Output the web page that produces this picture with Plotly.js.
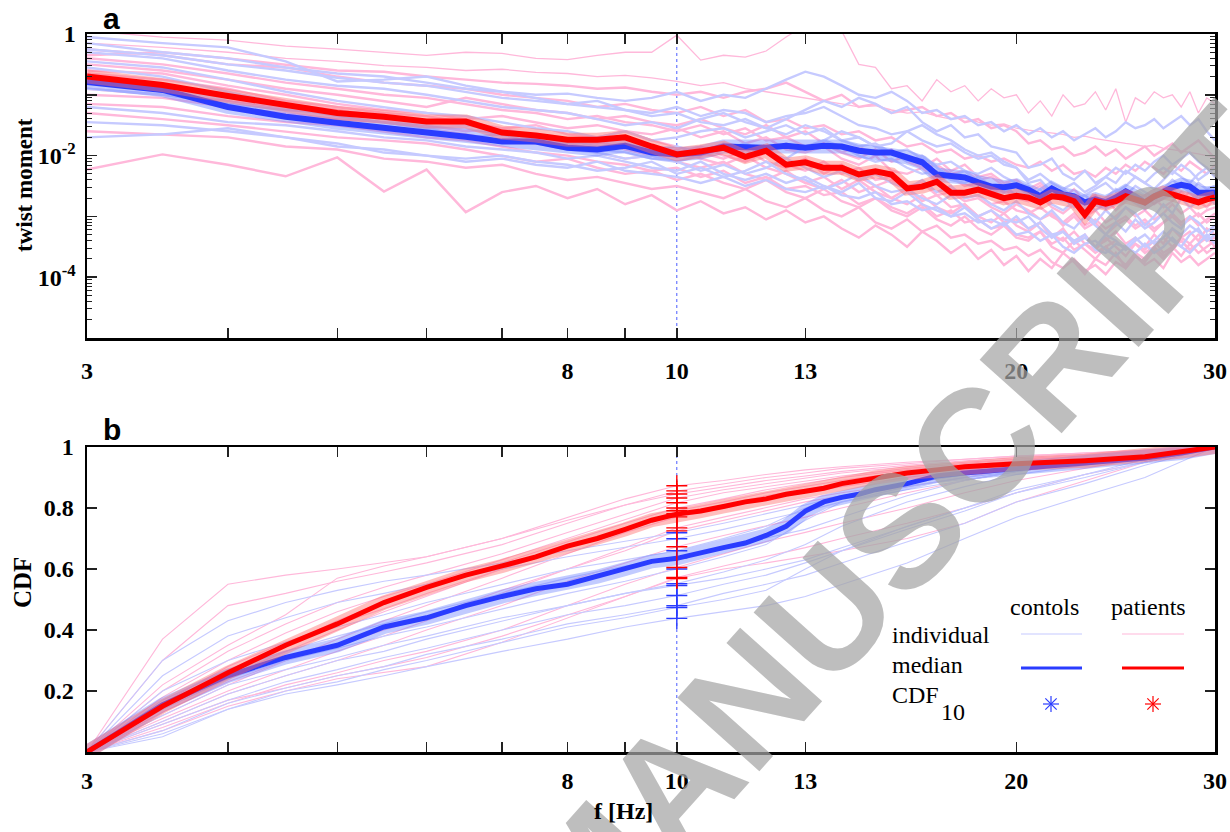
<!DOCTYPE html>
<html><head><meta charset="utf-8">
<script src="https://cdn.plot.ly/plotly-3.0.1.min.js"></script>
<style>html,body{margin:0;padding:0;background:#fff}#chart{width:1230px;height:832px}</style>
</head><body><div id="chart"></div>
<script>
// ---------- DATA ----------
// frequencies (Hz) of the twist-moment spectra
const freqTop = [3,3.5,4,4.5,5,5.5,6,6.5,7,7.5,8,8.5,9,9.5,10,
  10.5,11,11.5,12,12.5,13,13.5,14,14.5,15,15.5,16,16.5,17,17.5,18,18.5,19,19.5,20,
  20.5,21,21.5,22,22.5,23,23.5,24,24.5,25,25.5,26,26.5,27,27.5,28,28.5,29,29.5,30];

// medians, log10(twist moment)
const ctrlMedianLog = [-0.79,-0.92,-1.20,-1.36,-1.46,-1.54,-1.61,-1.69,-1.77,-1.77,-1.87,-1.90,-1.84,-1.95,-1.98,
  -1.95,-1.85,-1.85,-1.87,-1.84,-1.87,-1.84,-1.85,-1.92,-1.95,-1.95,-2.03,-2.11,-2.31,-2.34,-2.36,-2.44,-2.51,-2.52,-2.49,
  -2.56,-2.67,-2.54,-2.64,-2.67,-2.77,-2.72,-2.77,-2.69,-2.59,-2.67,-2.77,-2.67,-2.59,-2.52,-2.48,-2.51,-2.61,-2.62,-2.61];
const patMedianLog = [-0.70,-0.84,-1.02,-1.18,-1.30,-1.36,-1.44,-1.44,-1.62,-1.67,-1.74,-1.74,-1.70,-1.85,-1.98,
  -1.93,-1.87,-2.02,-1.92,-2.15,-2.11,-2.20,-2.20,-2.31,-2.26,-2.31,-2.54,-2.51,-2.43,-2.61,-2.61,-2.56,-2.62,-2.70,-2.66,
  -2.69,-2.77,-2.67,-2.69,-2.75,-2.97,-2.75,-2.79,-2.75,-2.67,-2.72,-2.77,-2.67,-2.61,-2.64,-2.69,-2.72,-2.77,-2.72,-2.69];

// individual controls, log10(twist moment)
const ctrlIndivLog = [
 [-0.05,-0.15,-0.22,-0.45,-0.78,-0.75,-0.70,-0.85,-0.95,-1.0,-0.98,-1.05,-1.1,-1.05,-0.95,
  -1.1,-1.0,-1.05,-0.9,-0.75,-0.62,-0.7,-0.85,-1.0,-1.05,-0.95,-1.1,-1.3,-1.25,-1.4,-1.35,-1.5,-1.45,-1.6,-1.5,
  -1.65,-1.55,-1.7,-1.6,-1.75,-1.65,-1.55,-1.7,-1.6,-1.45,-1.55,-1.5,-1.4,-1.55,-1.45,-1.35,-1.5,-1.4,-1.6,-1.75],
 [-0.25,-0.35,-0.5,-0.6,-0.72,-0.8,-0.85,-0.95,-1.05,-1.1,-1.15,-1.2,-1.25,-1.3,-1.2,
  -1.35,-1.25,-1.3,-1.45,-1.35,-1.3,-1.2,-1.35,-1.5,-1.55,-1.65,-1.6,-1.75,-1.85,-1.8,-1.95,-2.05,-2.0,-2.15,-2.2,
  -2.45,-2.4,-2.6,-2.55,-2.7,-2.65,-2.55,-2.45,-2.6,-2.5,-2.35,-2.45,-2.55,-2.4,-2.25,-2.35,-2.45,-2.3,-2.2,-2.35],
 [-0.55,-0.7,-0.95,-1.15,-1.3,-1.4,-1.5,-1.55,-1.65,-1.7,-1.75,-1.85,-1.8,-1.9,-1.85,
  -1.95,-1.8,-1.85,-1.95,-1.8,-1.9,-1.75,-1.85,-2.0,-2.1,-2.05,-2.2,-2.3,-2.25,-2.4,-2.45,-2.35,-2.5,-2.6,-2.5,
  -2.65,-2.75,-2.6,-2.7,-2.85,-2.75,-2.9,-2.8,-2.7,-2.55,-2.65,-2.8,-2.7,-2.6,-2.5,-2.45,-2.6,-2.7,-2.6,-2.55],
 [-1.45,-1.5,-1.6,-1.7,-1.85,-1.9,-2.0,-2.1,-2.05,-2.15,-2.2,-2.1,-2.25,-2.3,-2.35,
  -2.45,-2.35,-2.5,-2.4,-2.55,-2.6,-2.5,-2.65,-2.7,-2.6,-2.8,-2.75,-2.9,-2.85,-3.0,-2.95,-3.1,-3.05,-3.15,-3.0,
  -3.2,-3.1,-3.3,-3.25,-3.45,-3.35,-3.5,-3.3,-3.4,-3.55,-3.4,-3.3,-3.45,-3.35,-3.2,-3.3,-3.15,-3.25,-3.35,-3.2],
 [-1.7,-1.65,-1.55,-1.7,-1.8,-1.95,-2.0,-2.05,-2.0,-2.1,-2.15,-2.25,-2.2,-2.1,-2.3,
  -2.2,-2.35,-2.25,-2.1,-2.3,-2.4,-2.55,-2.45,-2.3,-2.5,-2.6,-2.55,-2.7,-2.8,-2.65,-2.85,-3.0,-2.9,-3.05,-3.1,
  -3.0,-3.2,-3.35,-3.25,-3.4,-3.3,-3.55,-3.6,-3.45,-3.5,-3.35,-3.5,-3.4,-3.25,-3.4,-3.5,-3.3,-3.2,-3.4,-3.3],
 [-0.3,-0.4,-0.6,-0.75,-0.85,-0.9,-1.0,-1.1,-1.2,-1.25,-1.3,-1.4,-1.5,-1.45,-1.55,
  -1.4,-1.3,-1.45,-1.55,-1.4,-1.25,-1.1,-1.2,-1.05,-1.15,-1.3,-1.2,-1.45,-1.6,-1.5,-1.7,-1.65,-1.85,-1.9,-1.95,
  -2.2,-2.15,-2.05,-2.3,-2.4,-2.25,-2.45,-2.35,-2.2,-2.3,-2.15,-2.25,-2.1,-2.0,-2.15,-2.05,-1.95,-2.1,-2.2,-2.35],
 [-0.7,-0.85,-1.05,-1.2,-1.35,-1.45,-1.55,-1.5,-1.6,-1.75,-1.8,-1.9,-1.95,-2.05,-2.1,
  -2.0,-1.9,-1.8,-1.95,-2.05,-1.85,-1.75,-1.6,-1.7,-1.85,-1.95,-2.1,-2.0,-2.2,-2.35,-2.25,-2.45,-2.55,-2.5,-2.65,
  -2.7,-2.55,-2.8,-2.9,-2.75,-2.95,-3.1,-2.9,-3.05,-2.85,-2.95,-3.15,-3.0,-2.8,-2.95,-2.7,-2.85,-2.75,-2.65,-2.8],
 [-0.9,-1.0,-1.15,-1.25,-1.3,-1.4,-1.55,-1.7,-1.65,-1.8,-1.9,-1.95,-2.05,-2.0,-2.1,
  -2.25,-2.15,-2.3,-2.2,-2.05,-2.2,-2.35,-2.25,-2.4,-2.3,-2.45,-2.55,-2.4,-2.6,-2.5,-2.7,-2.65,-2.8,-2.9,-2.75,
  -2.95,-3.05,-2.9,-3.1,-3.2,-3.0,-3.15,-3.3,-3.1,-3.25,-3.05,-3.2,-3.1,-2.95,-3.1,-3.2,-3.0,-3.1,-3.25,-3.15],
 [-0.45,-0.55,-0.75,-0.95,-1.1,-1.2,-1.3,-1.35,-1.45,-1.55,-1.6,-1.7,-1.6,-1.75,-1.7,
  -1.6,-1.55,-1.7,-1.6,-1.5,-1.65,-1.55,-1.75,-1.85,-1.8,-1.95,-1.9,-2.05,-2.15,-2.1,-2.25,-2.3,-2.2,-2.35,-2.45,
  -2.5,-2.65,-2.7,-2.55,-2.75,-2.65,-2.8,-2.7,-2.55,-2.65,-2.5,-2.6,-2.7,-2.55,-2.4,-2.5,-2.6,-2.45,-2.55,-2.5],
 [-1.2,-1.3,-1.45,-1.5,-1.6,-1.7,-1.75,-1.85,-1.9,-1.95,-2.05,-2.0,-2.1,-2.2,-2.25,
  -2.1,-2.3,-2.4,-2.3,-2.45,-2.35,-2.5,-2.6,-2.45,-2.7,-2.75,-2.6,-2.8,-2.9,-3.0,-2.85,-3.05,-3.2,-3.1,-3.3,
  -3.25,-3.4,-3.3,-3.5,-3.6,-3.45,-3.4,-3.55,-3.65,-3.5,-3.6,-3.45,-3.6,-3.5,-3.35,-3.5,-3.6,-3.45,-3.3,-3.45],
 [-0.15,-0.3,-0.4,-0.55,-0.65,-0.7,-0.8,-0.9,-0.95,-1.05,-1.15,-1.1,-1.25,-1.35,-1.3,
  -1.45,-1.5,-1.4,-1.55,-1.65,-1.5,-1.6,-1.75,-1.7,-1.85,-1.8,-1.6,-1.5,-1.65,-1.75,-1.9,-2.0,-1.95,-2.1,-2.2,
  -2.4,-2.3,-2.45,-2.55,-2.45,-2.6,-2.5,-2.35,-2.45,-2.25,-2.35,-2.45,-2.3,-2.2,-2.3,-2.15,-2.25,-2.4,-2.3,-2.2]
];

// individual patients, log10(twist moment)
const patIndivLog = [
 [0.05,-0.05,-0.1,-0.2,-0.25,-0.3,-0.35,-0.3,-0.32,-0.4,-0.42,-0.35,-0.3,-0.3,-0.02,
  -0.43,-0.35,-0.38,-0.28,-0.05,0.15,0.2,0.05,-0.5,-0.55,-0.9,-0.85,-1.1,-0.75,-0.95,-0.85,-1.1,-0.9,-1.05,-1.0,
  -1.3,-1.1,-1.35,-1.0,-1.2,-1.15,-0.95,-1.25,-0.9,-1.45,-1.05,-1.15,-0.95,-1.05,-1.0,-1.2,-0.95,-1.3,-1.05,-1.15],
 [-0.15,-0.22,-0.3,-0.4,-0.45,-0.52,-0.55,-0.6,-0.58,-0.63,-0.65,-0.7,-0.68,-0.72,-0.78,
  -0.85,-0.8,-0.9,-0.95,-1.0,-1.05,-1.1,-1.15,-1.2,-1.18,-1.25,-1.3,-1.28,-1.35,-1.4,-1.38,-1.45,-1.5,-1.48,-1.55,
  -1.58,-1.6,-1.62,-1.65,-1.7,-1.68,-1.72,-1.75,-1.78,-1.8,-1.82,-1.85,-1.83,-1.88,-1.9,-1.92,-1.95,-1.97,-2.0,-2.02],
 [-2.23,-1.98,-2.15,-2.34,-2.03,-2.59,-2.23,-2.93,-2.6,-2.5,-2.7,-2.55,-2.8,-2.65,-2.9,
  -2.75,-2.95,-2.85,-3.05,-2.9,-3.1,-3.0,-3.2,-3.35,-3.15,-3.3,-3.5,-3.25,-3.4,-3.6,-3.45,-3.7,-3.55,-3.8,-3.65,
  -3.9,-3.7,-3.85,-3.6,-3.75,-3.95,-3.7,-3.8,-3.6,-3.85,-3.65,-3.75,-3.55,-3.7,-3.5,-3.65,-3.45,-3.6,-3.5,-3.4],
 [-0.35,-0.3,-0.4,-0.5,-0.6,-0.62,-0.7,-0.75,-0.8,-0.82,-0.85,-0.9,-0.88,-0.95,-1.0,
  -0.95,-1.05,-0.95,-0.9,-0.8,-0.95,-1.1,-1.0,-1.2,-1.15,-1.3,-1.25,-1.2,-1.35,-1.3,-1.45,-1.4,-1.55,-1.5,-1.6,
  -1.8,-1.75,-1.9,-1.85,-2.0,-1.95,-1.85,-2.0,-1.9,-2.05,-1.95,-1.85,-2.0,-1.9,-1.8,-1.95,-1.85,-1.75,-1.9,-2.05],
 [-0.5,-0.6,-0.75,-0.9,-1.0,-1.1,-1.2,-1.05,-1.15,-1.25,-1.3,-1.4,-1.35,-1.45,-1.5,
  -1.4,-1.55,-1.65,-1.5,-1.7,-1.6,-1.8,-1.95,-1.85,-2.0,-1.9,-2.1,-2.2,-2.05,-2.25,-2.15,-2.35,-2.3,-2.45,-2.4,
  -2.55,-2.45,-2.6,-2.7,-2.55,-2.75,-2.65,-2.85,-2.7,-2.6,-2.75,-2.65,-2.8,-2.7,-2.55,-2.7,-2.6,-2.75,-2.85,-2.7],
 [-0.65,-0.75,-0.9,-1.1,-1.2,-1.3,-1.35,-1.45,-1.55,-1.5,-1.65,-1.7,-1.6,-1.75,-1.85,
  -1.95,-2.05,-1.9,-2.1,-2.2,-2.05,-2.3,-2.15,-2.35,-2.5,-2.4,-2.55,-2.45,-2.65,-2.6,-2.75,-2.7,-2.85,-2.95,-2.8,
  -2.9,-3.05,-2.95,-3.15,-3.0,-3.2,-3.1,-3.3,-3.15,-3.05,-3.2,-3.1,-3.25,-3.1,-3.0,-3.15,-3.05,-2.95,-3.1,-3.0],
 [-0.8,-0.9,-1.0,-1.15,-1.25,-1.35,-1.5,-1.6,-1.55,-1.7,-1.8,-1.75,-1.9,-2.0,-1.9,
  -2.05,-2.15,-2.0,-2.2,-2.3,-2.45,-2.35,-2.55,-2.4,-2.6,-2.7,-2.55,-2.75,-2.65,-2.85,-2.8,-3.0,-2.9,-3.1,-3.05,
  -3.2,-3.1,-3.3,-3.4,-3.25,-3.45,-3.55,-3.35,-3.5,-3.65,-3.45,-3.55,-3.4,-3.6,-3.5,-3.35,-3.45,-3.3,-3.4,-3.35],
 [-1.0,-1.05,-1.2,-1.3,-1.4,-1.45,-1.55,-1.65,-1.75,-1.8,-1.85,-1.95,-2.05,-2.0,-2.1,
  -2.2,-2.1,-2.3,-2.4,-2.25,-2.45,-2.55,-2.4,-2.6,-2.5,-2.7,-2.8,-2.65,-2.85,-2.95,-2.8,-3.0,-3.1,-2.95,-3.15,
  -3.25,-3.1,-3.35,-3.2,-3.45,-3.3,-3.5,-3.4,-3.25,-3.45,-3.35,-3.5,-3.3,-3.45,-3.2,-3.35,-3.25,-3.4,-3.2,-3.3],
 [-1.3,-1.4,-1.5,-1.6,-1.7,-1.75,-1.8,-1.9,-2.0,-2.1,-2.05,-2.2,-2.3,-2.25,-2.4,
  -2.3,-2.45,-2.55,-2.4,-2.6,-2.7,-2.55,-2.75,-2.85,-2.7,-2.9,-3.0,-2.85,-3.05,-3.15,-3.0,-3.2,-3.3,-3.15,-3.35,
  -3.4,-3.25,-3.5,-3.6,-3.4,-3.55,-3.7,-3.5,-3.65,-3.8,-3.6,-3.7,-3.5,-3.65,-3.55,-3.4,-3.55,-3.45,-3.6,-3.5],
 [-0.4,-0.5,-0.65,-0.8,-0.9,-1.0,-1.05,-1.15,-1.25,-1.3,-1.4,-1.35,-1.45,-1.5,-1.6,
  -1.5,-1.65,-1.55,-1.75,-1.7,-1.85,-1.8,-1.95,-2.05,-1.9,-2.1,-2.0,-2.2,-2.15,-2.3,-2.25,-2.4,-2.35,-2.5,-2.45,
  -2.6,-2.5,-2.65,-2.55,-2.75,-2.65,-2.8,-2.7,-2.9,-2.75,-2.65,-2.8,-2.7,-2.85,-2.75,-2.6,-2.7,-2.8,-2.65,-2.75],
 [-1.6,-1.65,-1.7,-1.85,-1.9,-2.05,-2.1,-2.2,-2.15,-2.3,-2.4,-2.35,-2.45,-2.55,-2.5,
  -2.6,-2.7,-2.55,-2.75,-2.85,-2.7,-2.9,-3.0,-2.85,-3.1,-3.2,-3.05,-3.25,-3.15,-3.35,-3.3,-3.45,-3.4,-3.55,-3.5,
  -3.65,-3.55,-3.75,-3.85,-3.7,-3.9,-3.8,-3.95,-3.75,-3.85,-3.65,-3.8,-3.7,-3.85,-3.6,-3.75,-3.65,-3.8,-3.7,-3.6],
 [-0.6,-0.65,-0.85,-1.0,-1.15,-1.25,-1.3,-1.4,-1.35,-1.45,-1.55,-1.5,-1.6,-1.65,-1.55,
  -1.7,-1.6,-1.8,-1.7,-1.9,-1.95,-1.85,-2.05,-2.15,-2.0,-2.25,-2.3,-2.2,-2.4,-2.35,-2.5,-2.45,-2.6,-2.55,-2.7,
  -2.75,-2.65,-2.85,-2.95,-2.8,-3.0,-2.9,-3.1,-3.0,-2.85,-3.0,-2.9,-3.05,-2.95,-2.8,-2.95,-2.85,-3.0,-2.9,-2.85],
 [-1.15,-1.2,-1.35,-1.45,-1.5,-1.6,-1.7,-1.75,-1.85,-1.95,-2.0,-2.1,-2.15,-2.25,-2.2,
  -2.35,-2.25,-2.45,-2.35,-2.55,-2.5,-2.65,-2.6,-2.8,-2.7,-2.85,-2.95,-2.8,-3.0,-2.9,-3.1,-3.05,-3.2,-3.15,-3.3,
  -3.35,-3.25,-3.45,-3.35,-3.55,-3.45,-3.6,-3.5,-3.4,-3.55,-3.45,-3.6,-3.5,-3.35,-3.5,-3.4,-3.55,-3.45,-3.35,-3.5],
 [-0.25,-0.35,-0.5,-0.55,-0.7,-0.8,-0.85,-0.9,-1.0,-1.05,-1.1,-1.2,-1.15,-1.25,-1.3,
  -1.2,-1.35,-1.25,-1.45,-1.4,-1.55,-1.5,-1.65,-1.6,-1.75,-1.7,-1.85,-1.8,-1.95,-1.9,-2.05,-2.0,-2.1,-2.05,-2.15,
  -2.2,-2.1,-2.25,-2.15,-2.3,-2.25,-2.35,-2.2,-2.3,-2.15,-2.25,-2.1,-2.2,-2.3,-2.15,-2.25,-2.1,-2.2,-2.3,-2.15],
 [-0.9,-1.0,-1.1,-1.2,-1.3,-1.35,-1.45,-1.5,-1.6,-1.7,-1.75,-1.8,-1.7,-1.85,-1.95,
  -1.85,-2.0,-2.1,-1.95,-2.15,-2.25,-2.1,-2.3,-2.2,-2.4,-2.35,-2.5,-2.45,-2.6,-2.55,-2.7,-2.65,-2.8,-2.75,-2.9,
  -2.95,-2.85,-3.0,-3.1,-2.95,-3.15,-3.05,-3.2,-3.1,-3.0,-3.15,-3.05,-3.2,-3.1,-2.95,-3.1,-3.0,-3.15,-3.05,-2.95]
];

// CDF panel
const freqCdf = [3,3.5,4,4.5,5,5.5,6,7,8,9,10,11,12,13,14,16,18,20,23,26,30];
const ctrlCdf = [
 [0,0.30,0.43,0.49,0.53,0.56,0.58,0.62,0.66,0.69,0.719,0.75,0.78,0.81,0.84,0.88,0.91,0.93,0.95,0.97,1],
 [0,0.25,0.38,0.44,0.49,0.52,0.55,0.60,0.64,0.67,0.699,0.73,0.76,0.79,0.82,0.86,0.89,0.92,0.95,0.97,1],
 [0,0.20,0.30,0.36,0.41,0.45,0.49,0.55,0.60,0.63,0.66,0.70,0.74,0.80,0.84,0.88,0.91,0.93,0.95,0.97,1],
 [0,0.17,0.27,0.33,0.38,0.42,0.46,0.52,0.57,0.61,0.637,0.67,0.70,0.73,0.77,0.84,0.89,0.92,0.95,0.97,1],
 [0,0.14,0.24,0.30,0.34,0.38,0.41,0.47,0.52,0.56,0.60,0.64,0.68,0.76,0.82,0.87,0.90,0.92,0.95,0.97,1],
 [0,0.12,0.22,0.27,0.31,0.35,0.38,0.44,0.48,0.52,0.552,0.59,0.63,0.68,0.74,0.82,0.87,0.91,0.94,0.97,1],
 [0,0.10,0.19,0.25,0.30,0.33,0.37,0.43,0.48,0.52,0.546,0.57,0.60,0.63,0.67,0.74,0.80,0.85,0.90,0.95,1],
 [0,0.09,0.17,0.23,0.27,0.31,0.34,0.40,0.45,0.48,0.513,0.55,0.58,0.62,0.66,0.73,0.79,0.85,0.91,0.96,1],
 [0,0.07,0.16,0.21,0.25,0.28,0.32,0.37,0.42,0.45,0.48,0.52,0.55,0.58,0.62,0.69,0.75,0.82,0.88,0.94,1],
 [0,0.06,0.14,0.20,0.23,0.27,0.30,0.36,0.41,0.44,0.474,0.50,0.53,0.60,0.66,0.74,0.80,0.86,0.91,0.95,1],
 [0,0.05,0.14,0.19,0.22,0.25,0.28,0.33,0.37,0.41,0.438,0.46,0.48,0.51,0.55,0.62,0.70,0.77,0.84,0.90,1]
];
const patCdf = [
 [0,0.37,0.55,0.58,0.60,0.62,0.64,0.70,0.77,0.83,0.873,0.89,0.91,0.925,0.935,0.95,0.96,0.97,0.98,0.99,1],
 [0,0.30,0.48,0.52,0.56,0.59,0.62,0.68,0.75,0.81,0.856,0.88,0.90,0.915,0.93,0.945,0.96,0.97,0.98,0.99,1],
 [0,0.22,0.35,0.45,0.57,0.61,0.64,0.70,0.76,0.81,0.846,0.87,0.89,0.905,0.92,0.94,0.955,0.965,0.975,0.985,1],
 [0,0.20,0.33,0.42,0.49,0.54,0.58,0.65,0.72,0.78,0.833,0.86,0.88,0.90,0.915,0.935,0.95,0.96,0.975,0.985,1],
 [0,0.18,0.30,0.39,0.46,0.51,0.55,0.63,0.70,0.76,0.817,0.85,0.87,0.89,0.905,0.93,0.945,0.96,0.97,0.985,1],
 [0,0.15,0.26,0.35,0.43,0.49,0.54,0.62,0.69,0.75,0.80,0.83,0.86,0.88,0.90,0.925,0.94,0.955,0.97,0.985,1],
 [0,0.14,0.25,0.33,0.40,0.46,0.51,0.60,0.67,0.73,0.791,0.82,0.85,0.87,0.89,0.92,0.94,0.955,0.97,0.985,1],
 [0,0.16,0.28,0.36,0.42,0.47,0.52,0.60,0.67,0.73,0.781,0.81,0.84,0.86,0.88,0.91,0.93,0.95,0.965,0.98,1],
 [0,0.12,0.22,0.30,0.37,0.43,0.48,0.57,0.65,0.72,0.771,0.80,0.83,0.85,0.87,0.90,0.925,0.945,0.965,0.98,1],
 [0,0.11,0.20,0.27,0.33,0.38,0.43,0.52,0.60,0.67,0.735,0.77,0.80,0.83,0.85,0.88,0.91,0.935,0.96,0.98,1],
 [0,0.13,0.23,0.30,0.35,0.40,0.44,0.53,0.60,0.66,0.725,0.76,0.79,0.82,0.84,0.87,0.90,0.93,0.955,0.975,1],
 [0,0.10,0.19,0.25,0.30,0.35,0.40,0.48,0.56,0.62,0.673,0.71,0.74,0.77,0.80,0.85,0.89,0.92,0.95,0.975,1],
 [0,0.08,0.16,0.22,0.26,0.30,0.33,0.40,0.48,0.55,0.605,0.65,0.69,0.72,0.75,0.80,0.85,0.89,0.93,0.965,1],
 [0,0.07,0.15,0.20,0.24,0.26,0.28,0.36,0.44,0.51,0.572,0.61,0.64,0.67,0.70,0.75,0.80,0.85,0.91,0.95,1],
 [0,0.09,0.17,0.21,0.25,0.28,0.31,0.38,0.45,0.51,0.569,0.60,0.62,0.64,0.66,0.70,0.75,0.82,0.89,0.95,1]
];
const freqCdfMedian = [3,3.5,4,4.5,5,5.5,6,6.5,7,7.5,8,8.5,9,9.5,10,10.5,11,11.5,12,12.5,13,13.5,14,14.5,15,16,17,18,20,23,26,28,30];
const ctrlCdfMedian = [0,0.155,0.25,0.31,0.35,0.41,0.44,0.48,0.51,0.535,0.55,0.575,0.60,0.625,0.635,0.655,0.67,0.685,0.71,0.74,0.79,0.82,0.835,0.845,0.86,0.88,0.905,0.915,0.93,0.948,0.964,0.98,1];
const patCdfMedian  = [0,0.15,0.26,0.35,0.42,0.49,0.54,0.58,0.61,0.64,0.675,0.70,0.73,0.76,0.78,0.79,0.805,0.82,0.83,0.845,0.855,0.865,0.88,0.89,0.90,0.915,0.925,0.935,0.945,0.955,0.968,0.985,1];
const cdfFreq = 10;

// ticks
const xTickVals = [3,4,5,6,7,8,9,10,13,20,30];
const xTickText = ['3','','','','','8','','10','13','20','30'];
const yTopTickVals = [1,0.1,0.01,0.001,0.0001,0.00001];
const yTopTickText = ['1','','10<sup>-2</sup>','','10<sup>-4</sup>',''];
const yBotTickVals = [0.2,0.4,0.6,0.8,1];
const yBotTickText = ['0.2','0.4','0.6','0.8','1'];

// ---------- STYLE ----------
const C_IND = '#c6caff', P_IND = '#ffb8da';
const C_MED = '#2a3cff', P_MED = '#ff0000';
const C_BAND = 'rgba(110,130,255,0.42)', P_BAND = 'rgba(255,110,110,0.45)';
const VLINE = '#4a5cff';
const W = 1230, H = 832;
const PX = x => x / W, PY = y => 1 - y / H;
const serif = '"Liberation Serif", "Times New Roman", Times, "DejaVu Serif", serif';
const sans = '"Liberation Sans", Arial, sans-serif';

const pow10 = a => a.map(v => Math.pow(10, v));
const traces = [];
const base = {mode:'lines', hoverinfo:'skip', showlegend:false};

// panel a
traces.push(Object.assign({}, base, {x:[cdfFreq,cdfFreq], y:[1e-5,1], xaxis:'x', yaxis:'y', line:{color:VLINE, width:1, dash:'dot'}}));
patIndivLog.forEach((r,i) => traces.push(Object.assign({}, base, {x:freqTop, y:pow10(r), xaxis:'x', yaxis:'y', line:{color:P_IND, width:(i<2?1.3:2.4)}})));
ctrlIndivLog.forEach(r => traces.push(Object.assign({}, base, {x:freqTop, y:pow10(r), xaxis:'x', yaxis:'y', line:{color:C_IND, width:2.4}})));
traces.push(Object.assign({}, base, {x:freqTop, y:pow10(ctrlMedianLog), xaxis:'x', yaxis:'y', line:{color:C_BAND, width:14}}));
traces.push(Object.assign({}, base, {x:freqTop, y:pow10(ctrlMedianLog), xaxis:'x', yaxis:'y', line:{color:C_MED, width:6}}));
traces.push(Object.assign({}, base, {x:freqTop, y:pow10(patMedianLog), xaxis:'x', yaxis:'y', line:{color:P_BAND, width:14}}));
traces.push(Object.assign({}, base, {x:freqTop, y:pow10(patMedianLog), xaxis:'x', yaxis:'y', line:{color:P_MED, width:6}}));

// panel b
traces.push(Object.assign({}, base, {x:[cdfFreq,cdfFreq], y:[0,1], xaxis:'x2', yaxis:'y2', line:{color:VLINE, width:1, dash:'dot'}}));
patCdf.forEach(r => traces.push(Object.assign({}, base, {x:freqCdf, y:r, xaxis:'x2', yaxis:'y2', line:{color:P_IND, width:1.1}})));
ctrlCdf.forEach(r => traces.push(Object.assign({}, base, {x:freqCdf, y:r, xaxis:'x2', yaxis:'y2', line:{color:C_IND, width:1.1}})));
traces.push(Object.assign({}, base, {x:freqCdfMedian, y:ctrlCdfMedian, xaxis:'x2', yaxis:'y2', line:{color:C_BAND, width:14}}));
traces.push(Object.assign({}, base, {x:freqCdfMedian, y:ctrlCdfMedian, xaxis:'x2', yaxis:'y2', line:{color:C_MED, width:5}}));
traces.push(Object.assign({}, base, {x:freqCdfMedian, y:patCdfMedian, xaxis:'x2', yaxis:'y2', line:{color:P_BAND, width:14}}));
traces.push(Object.assign({}, base, {x:freqCdfMedian, y:patCdfMedian, xaxis:'x2', yaxis:'y2', line:{color:P_MED, width:5}}));
const i10 = freqCdf.indexOf(cdfFreq);
const ctrl10 = ctrlCdf.map(r => r[i10]);
const pat10 = patCdf.map(r => r[i10]);
traces.push({mode:'markers', x:ctrl10.map(() => cdfFreq), y:ctrl10, xaxis:'x2', yaxis:'y2', hoverinfo:'skip', showlegend:false, cliponaxis:false,
  marker:{symbol:'cross-thin-open', size:15, color:C_MED, line:{color:C_MED, width:1.4}}});
traces.push({mode:'markers', x:pat10.map(() => cdfFreq), y:pat10, xaxis:'x2', yaxis:'y2', hoverinfo:'skip', showlegend:false, cliponaxis:false,
  marker:{symbol:'cross-thin-open', size:15, color:P_MED, line:{color:P_MED, width:1.4}}});

// minor ticks for log axis
const minorVals = [];
for (let k = -5; k < 0; k++) for (let m = 2; m <= 9; m++) minorVals.push(m * Math.pow(10, k));

const tickFont = {family:serif, size:24, color:'#000', weight:'bold'};
const xCommon = {type:'log', range:[Math.log10(3), Math.log10(30)], tickmode:'array', tickvals:xTickVals, ticktext:xTickText,
  ticks:'inside', ticklen:10, tickwidth:1.5, tickcolor:'#222', showline:true, linewidth:2.5, linecolor:'#000', mirror:'ticks',
  showgrid:false, zeroline:false, tickfont:tickFont, domain:[PX(87), PX(1215)]};

const layout = {
  width:W, height:H, margin:{l:0, r:0, t:0, b:0}, paper_bgcolor:'#fff', plot_bgcolor:'rgba(0,0,0,0)',
  font:{family:serif, size:24, color:'#000'},
  showlegend:false, hovermode:false,
  xaxis: Object.assign({}, xCommon, {anchor:'y', ticklabelstandoff:10}),
  yaxis: {type:'log', range:[-5, 0], domain:[PY(338), PY(34)], anchor:'x', tickmode:'array', tickvals:yTopTickVals, ticktext:yTopTickText,
    ticks:'inside', ticklen:10, tickwidth:1.5, tickcolor:'#222', showline:true, linewidth:2.5, linecolor:'#000', mirror:'ticks',
    showgrid:false, zeroline:false, tickfont:tickFont, ticklabelstandoff:4,
    minor:{ticks:'inside', ticklen:5, tickwidth:1, tickcolor:'#222', tickmode:'array', tickvals:minorVals, showgrid:false}},
  xaxis2: Object.assign({}, xCommon, {anchor:'y2', ticklabelstandoff:6}),
  yaxis2: {range:[0, 1], domain:[PY(752), PY(447)], anchor:'x2', tickmode:'array', tickvals:yBotTickVals, ticktext:yBotTickText,
    ticks:'inside', ticklen:10, tickwidth:1.5, tickcolor:'#222', showline:true, linewidth:2.5, linecolor:'#000', mirror:'ticks',
    showgrid:false, zeroline:false, tickfont:tickFont, ticklabelstandoff:6},
  annotations: [],
  shapes: []
};

const ann = (text, x, y, opts) => Object.assign({text, x:PX(x), y:PY(y), xref:'paper', yref:'paper', showarrow:false,
  xanchor:'center', yanchor:'middle', font:{family:serif, size:24, color:'#000'}}, opts || {});

layout.annotations.push(
  ann('MANUSCRIPT', 900, 530, {textangle:-48.2, font:{family:sans, size:160, color:'rgba(165,165,165,0.72)', weight:'bold'}}),
  ann('a', 111, 18, {font:{family:sans, size:30, color:'#000', weight:'bold'}}),
  ann('b', 112, 429, {font:{family:sans, size:30, color:'#000', weight:'bold'}}),
  ann('twist moment', 25, 185, {textangle:-90, font:{family:serif, size:23, color:'#000', weight:'bold'}}),
  ann('CDF', 22, 583, {textangle:-90, font:{family:serif, size:25, color:'#000', weight:'bold'}}),
  ann('f [Hz]', 623, 811, {font:{family:serif, size:24, color:'#000', weight:'bold'}}),
  ann('contols', 1044, 607),
  ann('patients', 1148, 607),
  ann('individual', 890, 635, {xanchor:'left'}),
  ann('median', 890, 665, {xanchor:'left'}),
  ann('CDF', 890, 695, {xanchor:'left'}),
  ann('10', 939, 712, {xanchor:'left'})
);

const seg = (x0, y0, x1, y1, color, width) => ({type:'line', xref:'paper', yref:'paper', x0:PX(x0), y0:PY(y0), x1:PX(x1), y1:PY(y1), line:{color, width}});
layout.shapes.push(
  seg(1021, 634, 1082, 634, C_IND, 1.2),
  seg(1122, 634, 1184, 634, P_IND, 1.2),
  seg(1021, 668, 1082, 668, C_MED, 3),
  seg(1122, 668, 1184, 668, P_MED, 3)
);
const star = (cx, cy, r, color) => {
  const d = r * 0.707;
  return [seg(cx - r, cy, cx + r, cy, color, 1.2), seg(cx, cy - r, cx, cy + r, color, 1.2),
          seg(cx - d, cy - d, cx + d, cy + d, color, 1.2), seg(cx - d, cy + d, cx + d, cy - d, color, 1.2)];
};
layout.shapes.push(...star(1051, 704, 8, C_MED), ...star(1153, 704, 8, P_MED));

Plotly.newPlot('chart', traces, layout, {staticPlot:true, displayModeBar:false});
</script>
</body></html>
